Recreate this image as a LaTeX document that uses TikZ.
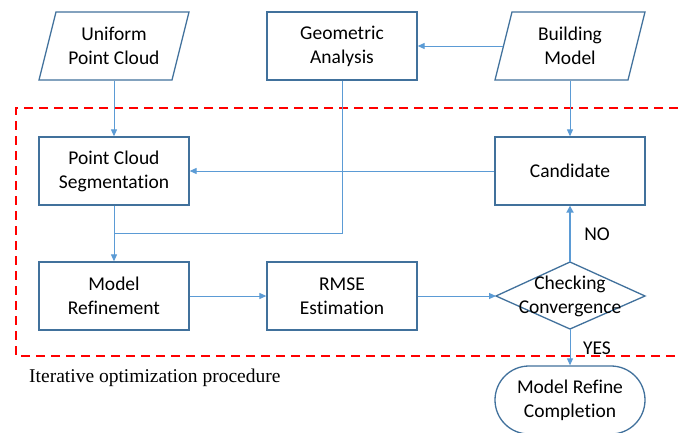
\documentclass[tikz,border=0pt]{standalone}
\usepackage{fontspec}
\setmainfont[Ligatures=NoCommon]{Carlito}
\newfontfamily\capfont{Liberation Serif}
\usetikzlibrary{arrows.meta,shapes.geometric}
\definecolor{boxc}{HTML}{41719C}
\definecolor{linec}{HTML}{5B9BD5}
\tikzset{
  base/.style={draw=boxc,line width=1.3pt,align=center,font=\fontsize{19.5}{24}\selectfont,inner sep=0pt},
  procbox/.style={base,rectangle,minimum width=150pt,minimum height=68pt},
  termbox/.style={base,rectangle,rounded corners=34pt,minimum width=150pt,minimum height=68pt},
  conn/.style={draw=linec,line width=1pt,-{Triangle[length=7pt,width=6pt]}},
  plain/.style={draw=linec,line width=1pt},
  lbl/.style={font=\fontsize{19.5}{24}\selectfont,inner sep=0pt}
}
\begin{document}
\begin{tikzpicture}[x=1pt,y=-1pt]
\useasboundingbox[fill=white] (0,0) rectangle (678,432);
% frame
\draw[red,line width=2pt,dash pattern=on 9pt off 6pt] (678,108) -- (16,108) -- (16,356) -- (678,356);
% nodes
\node[base,draw=none,minimum width=150pt,minimum height=68pt] (upc) at (114,46) {Uniform\\Point Cloud};
\draw[boxc,line width=1.3pt] (39,80) -- (56,12) -- (189,12) -- (172,80) -- cycle;
\node[procbox] (ga) at (342,46) {Geometric\\Analysis};
\node[base,draw=none,minimum width=150pt,minimum height=68pt] (bm) at (570,46) {Building\\Model};
\draw[boxc,line width=1.3pt] (495,80) -- (512,12) -- (645,12) -- (628,80) -- cycle;
\node[procbox] (pcs) at (114,171) {Point Cloud\\Segmentation};
\node[procbox] (cand) at (570,171) {Candidate};
\node[procbox] (mr) at (114,296) {Model\\Refinement};
\node[procbox] (rmse) at (342,296) {RMSE\\Estimation};
\draw[boxc,line width=1.3pt] (496,296) -- (570,262) -- (645,296) -- (570,329) -- cycle;
\node[base,draw=none,minimum width=149pt,minimum height=67pt] (chk) at (570,296) {Checking\\Convergence};
\node[termbox] (mrc) at (570,400) {Model Refine\\Completion};
\coordinate (bmleft) at (503,46);
\coordinate (junc) at (342,233);
\coordinate (juncl) at (114,233);
\coordinate (chkl) at (496,296);
\coordinate (chkt) at (570,262);
\coordinate (chkb) at (570,329);
% connectors
\draw[conn] (upc.south) -- (pcs.north);
\draw[conn] (bmleft) -- (ga.east);
\draw[conn] (bm.south) -- (cand.north);
\draw[conn] (cand.west) -- (pcs.east);
\draw[plain] (ga.south) -- (junc) -- (juncl);
\draw[conn] (pcs.south) -- (mr.north);
\draw[conn] (mr.east) -- (rmse.west);
\draw[conn] (rmse.east) -- (chkl);
\draw[draw=linec,line width=2pt,-{Triangle[length=7pt,width=7pt]}] (chkt) -- (cand.south);
\draw[conn] (chkb) -- (mrc.north);
\node[lbl] (no) at (597,234) {NO};
\node[lbl] (yes) at (597,348) {YES};
\node[anchor=west,inner sep=0pt,font=\capfont\fontsize{19.5}{22}\selectfont] (cap) at (29,378) {Iterative optimization procedure};
\end{tikzpicture}
\end{document}
